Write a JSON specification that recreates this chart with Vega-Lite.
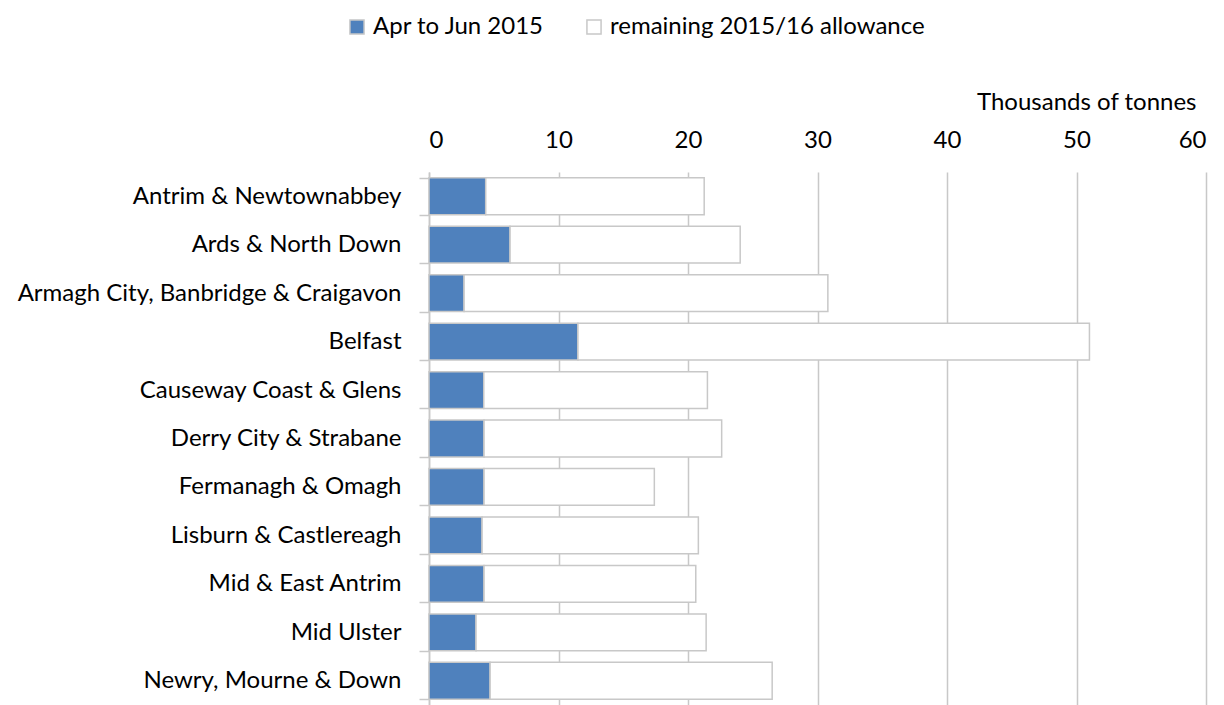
{
  "$schema": "https://vega.github.io/schema/vega-lite/v6.json",
  "width": 777,
  "height": 533,
  "autosize": {"type": "none"},
  "padding": {"left": 429, "top": 172, "right": 18, "bottom": 0},
  "background": "white",
  "config": {
    "font": "Lato",
    "view": {"stroke": null},
    "text": {"font": "Lato"}
  },
  "data": {
    "values": [
      {"region": "Antrim & Newtownabbey", "series": "Apr to Jun 2015", "ord": 1, "value": 4.38},
      {"region": "Antrim & Newtownabbey", "series": "remaining 2015/16 allowance", "ord": 2, "value": 16.87},
      {"region": "Ards & North Down", "series": "Apr to Jun 2015", "ord": 1, "value": 6.26},
      {"region": "Ards & North Down", "series": "remaining 2015/16 allowance", "ord": 2, "value": 17.77},
      {"region": "Armagh City, Banbridge & Craigavon", "series": "Apr to Jun 2015", "ord": 1, "value": 2.71},
      {"region": "Armagh City, Banbridge & Craigavon", "series": "remaining 2015/16 allowance", "ord": 2, "value": 28.09},
      {"region": "Belfast", "series": "Apr to Jun 2015", "ord": 1, "value": 11.5},
      {"region": "Belfast", "series": "remaining 2015/16 allowance", "ord": 2, "value": 39.5},
      {"region": "Causeway Coast  & Glens", "series": "Apr to Jun 2015", "ord": 1, "value": 4.23},
      {"region": "Causeway Coast  & Glens", "series": "remaining 2015/16 allowance", "ord": 2, "value": 17.27},
      {"region": "Derry City & Strabane", "series": "Apr to Jun 2015", "ord": 1, "value": 4.25},
      {"region": "Derry City & Strabane", "series": "remaining 2015/16 allowance", "ord": 2, "value": 18.35},
      {"region": "Fermanagh & Omagh", "series": "Apr to Jun 2015", "ord": 1, "value": 4.25},
      {"region": "Fermanagh & Omagh", "series": "remaining 2015/16 allowance", "ord": 2, "value": 13.15},
      {"region": "Lisburn & Castlereagh", "series": "Apr to Jun 2015", "ord": 1, "value": 4.1},
      {"region": "Lisburn & Castlereagh", "series": "remaining 2015/16 allowance", "ord": 2, "value": 16.7},
      {"region": "Mid &  East Antrim", "series": "Apr to Jun 2015", "ord": 1, "value": 4.25},
      {"region": "Mid &  East Antrim", "series": "remaining 2015/16 allowance", "ord": 2, "value": 16.35},
      {"region": "Mid Ulster", "series": "Apr to Jun 2015", "ord": 1, "value": 3.63},
      {"region": "Mid Ulster", "series": "remaining 2015/16 allowance", "ord": 2, "value": 17.77},
      {"region": "Newry, Mourne & Down", "series": "Apr to Jun 2015", "ord": 1, "value": 4.72},
      {"region": "Newry, Mourne & Down", "series": "remaining 2015/16 allowance", "ord": 2, "value": 21.78}
    ]
  },
  "mark": {"type": "bar", "stroke": "#c8c8c8", "strokeWidth": 1.5},
  "encoding": {
    "y": {
      "field": "region",
      "type": "nominal",
      "sort": null,
      "scale": {"paddingInner": 0.24, "paddingOuter": 0.12},
      "axis": {
        "title": null,
        "labelFontSize": 24,
        "labelLimit": 0,
        "labelColor": "#000000",
        "labelPadding": 18,
        "tickSize": 10,
        "tickColor": "#c8c8c8",
        "tickWidth": 1.5,
        "tickBand": "extent",
        "domainColor": "#c8c8c8",
        "domainWidth": 1.5,
        "grid": false
      }
    },
    "x": {
      "field": "value",
      "type": "quantitative",
      "stack": "zero",
      "scale": {"domain": [0, 60], "nice": false},
      "axis": {
        "orient": "top",
        "values": [0, 10, 20, 30, 40, 50, 60],
        "title": "Thousands of tonnes",
        "titleFontSize": 24,
        "titleFontWeight": "normal",
        "titleColor": "#000000",
        "titleAnchor": "end",
        "titleX": 767,
        "titleAlign": "right",
        "titlePadding": 14,
        "labelFontSize": 24,
        "labelColor": "#000000",
        "labelPadding": 20,
        "ticks": false,
        "domain": false,
        "grid": true,
        "gridColor": "#c8c8c8",
        "gridWidth": 1.5
      }
    },
    "order": {"field": "ord", "type": "quantitative"},
    "color": {
      "field": "series",
      "type": "nominal",
      "scale": {
        "domain": ["Apr to Jun 2015", "remaining 2015/16 allowance"],
        "range": ["#4f81bd", "#ffffff"]
      },
      "legend": {
        "title": null,
        "orient": "none",
        "direction": "horizontal",
        "legendX": -84,
        "legendY": -157,
        "symbolType": "square",
        "symbolSize": 200,
        "symbolStrokeColor": "#c8c8c8",
        "symbolStrokeWidth": 1.5,
        "symbolOpacity": 1,
        "labelFontSize": 24,
        "labelLimit": 0,
        "labelColor": "#000000",
        "labelOffset": 4,
        "columnPadding": 37
      }
    }
  }
}
